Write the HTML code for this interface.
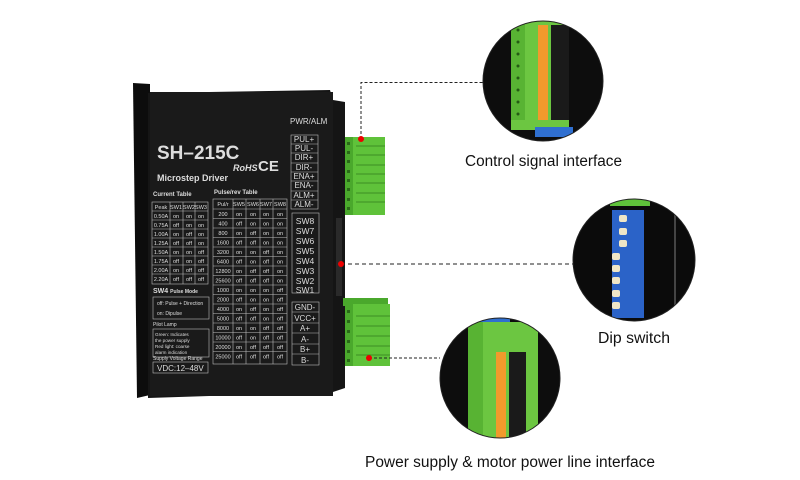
<!DOCTYPE html>
<html><head><meta charset="utf-8"><style>
html,body{margin:0;padding:0;background:#fff;width:800px;height:480px;overflow:hidden}
svg{display:block}
.t{font-family:"Liberation Sans",sans-serif;fill:#ddd}
.c{font-family:"Liberation Sans",sans-serif;fill:#ddd;font-size:5.5px;text-anchor:middle}
.lbl{font-family:"Liberation Sans",sans-serif;font-size:15.5px;fill:#111}
</style></head><body>
<svg width="800" height="480" viewBox="0 0 800 480" xmlns="http://www.w3.org/2000/svg">
<defs>
<clipPath id="c1"><circle cx="543" cy="81" r="60"/></clipPath>
<clipPath id="c2"><circle cx="634" cy="260" r="61"/></clipPath>
<clipPath id="c3"><circle cx="500" cy="378" r="60"/></clipPath>
</defs>
<polygon points="133,83 150,84 150,395 137,398" fill="#0c0c0c"/>
<path d="M148,93 L330,90 L333,100 L345,102 L345,388 L333,392 L148,398 Z" fill="#151515"/>
<rect x="150" y="92" width="183" height="304" fill="#1a1a1a"/>
<text class="t" x="290" y="124" font-size="8">PWR/ALM</text>
<text class="t" x="157" y="159" font-size="19" font-weight="bold" fill="#e6e6e6">SH–215C</text>
<text class="t" x="233" y="171" font-size="9" font-style="italic" font-weight="bold">RoHS</text>
<text class="t" x="258" y="171" font-size="15" font-weight="bold">CE</text>
<text class="t" x="157" y="181" font-size="9" font-weight="bold">Microstep Driver</text>
<text class="t" x="153" y="196" font-size="6" font-weight="bold">Current Table</text>
<text class="t" x="214" y="194" font-size="6" font-weight="bold">Pulse/rev Table</text>
<g stroke="#bbb" stroke-width="0.6" fill="none">
<rect x="152" y="202" width="56" height="82"/>
<path d="M170,202V284M183,202V284M195,202V284M152,211H208M152,220H208M152,229H208M152,238H208M152,247H208M152,256H208M152,265H208M152,274H208"/>
<rect x="213" y="199" width="74" height="165"/>
<path d="M233,199V364M246,199V364M260,199V364M273,199V364M213,209H287M213,218.5H287M213,228H287M213,237.5H287M213,247H287M213,256.5H287M213,266H287M213,275.5H287M213,285H287M213,294.5H287M213,304H287M213,313.5H287M213,323H287M213,332.5H287M213,342H287M213,351.5H287"/>
<rect x="153" y="297" width="56" height="22"/>
<rect x="153" y="329" width="56" height="28"/>
<rect x="153" y="362" width="55" height="11"/>
<rect x="291" y="135" width="27" height="74"/>
<path d="M291,144H318M291,153H318M291,163H318M291,172H318M291,181H318M291,191H318M291,200H318"/>
<rect x="292" y="213" width="27" height="80"/>
<rect x="292" y="302" width="27" height="63"/>
<path d="M292,312H319M292,323H319M292,333H319M292,344H319M292,354H319"/>
</g>
<g class="c">
<text x="161" y="209">Peak</text><text x="176" y="209">SW1</text><text x="189" y="209">SW2</text><text x="201" y="209">SW3</text>
<text x="161" y="218">0.50A</text><text x="176" y="218">on</text><text x="189" y="218">on</text><text x="201" y="218">on</text>
<text x="161" y="227">0.75A</text><text x="176" y="227">off</text><text x="189" y="227">on</text><text x="201" y="227">on</text>
<text x="161" y="236">1.00A</text><text x="176" y="236">on</text><text x="189" y="236">off</text><text x="201" y="236">on</text>
<text x="161" y="245">1.25A</text><text x="176" y="245">off</text><text x="189" y="245">off</text><text x="201" y="245">on</text>
<text x="161" y="254">1.50A</text><text x="176" y="254">on</text><text x="189" y="254">on</text><text x="201" y="254">off</text>
<text x="161" y="263">1.75A</text><text x="176" y="263">off</text><text x="189" y="263">on</text><text x="201" y="263">off</text>
<text x="161" y="272">2.00A</text><text x="176" y="272">on</text><text x="189" y="272">off</text><text x="201" y="272">off</text>
<text x="161" y="281">2.20A</text><text x="176" y="281">off</text><text x="189" y="281">off</text><text x="201" y="281">off</text>
<text x="223" y="206">Pul/r</text><text x="239" y="206">SW5</text><text x="253" y="206">SW6</text><text x="266" y="206">SW7</text><text x="280" y="206">SW8</text>
<text x="223" y="216">200</text><text x="239" y="216">on</text><text x="253" y="216">on</text><text x="266" y="216">on</text><text x="280" y="216">on</text>
<text x="223" y="225.5">400</text><text x="239" y="225.5">off</text><text x="253" y="225.5">on</text><text x="266" y="225.5">on</text><text x="280" y="225.5">on</text>
<text x="223" y="235">800</text><text x="239" y="235">on</text><text x="253" y="235">off</text><text x="266" y="235">on</text><text x="280" y="235">on</text>
<text x="223" y="244.5">1600</text><text x="239" y="244.5">off</text><text x="253" y="244.5">off</text><text x="266" y="244.5">on</text><text x="280" y="244.5">on</text>
<text x="223" y="254">3200</text><text x="239" y="254">on</text><text x="253" y="254">on</text><text x="266" y="254">off</text><text x="280" y="254">on</text>
<text x="223" y="263.5">6400</text><text x="239" y="263.5">off</text><text x="253" y="263.5">on</text><text x="266" y="263.5">off</text><text x="280" y="263.5">on</text>
<text x="223" y="273">12800</text><text x="239" y="273">on</text><text x="253" y="273">off</text><text x="266" y="273">off</text><text x="280" y="273">on</text>
<text x="223" y="282.5">25600</text><text x="239" y="282.5">off</text><text x="253" y="282.5">off</text><text x="266" y="282.5">off</text><text x="280" y="282.5">on</text>
<text x="223" y="292">1000</text><text x="239" y="292">on</text><text x="253" y="292">on</text><text x="266" y="292">on</text><text x="280" y="292">off</text>
<text x="223" y="301.5">2000</text><text x="239" y="301.5">off</text><text x="253" y="301.5">on</text><text x="266" y="301.5">on</text><text x="280" y="301.5">off</text>
<text x="223" y="311">4000</text><text x="239" y="311">on</text><text x="253" y="311">off</text><text x="266" y="311">on</text><text x="280" y="311">off</text>
<text x="223" y="320.5">5000</text><text x="239" y="320.5">off</text><text x="253" y="320.5">off</text><text x="266" y="320.5">on</text><text x="280" y="320.5">off</text>
<text x="223" y="330">8000</text><text x="239" y="330">on</text><text x="253" y="330">on</text><text x="266" y="330">off</text><text x="280" y="330">off</text>
<text x="223" y="339.5">10000</text><text x="239" y="339.5">off</text><text x="253" y="339.5">on</text><text x="266" y="339.5">off</text><text x="280" y="339.5">off</text>
<text x="223" y="349">20000</text><text x="239" y="349">on</text><text x="253" y="349">off</text><text x="266" y="349">off</text><text x="280" y="349">off</text>
<text x="223" y="358.5">25000</text><text x="239" y="358.5">off</text><text x="253" y="358.5">off</text><text x="266" y="358.5">off</text><text x="280" y="358.5">off</text>
</g>
<text class="t" x="153" y="293" font-size="7" font-weight="bold">SW4 <tspan font-size="5">Pulse Mode</tspan></text>
<text class="t" x="157" y="305" font-size="5">off: Pulse + Direction</text>
<text class="t" x="157" y="315" font-size="5">on: Dipulse</text>
<text class="t" x="153" y="326" font-size="5">Pilot Lamp</text>
<text class="t" x="155" y="336" font-size="4.6">Green: Indicates</text>
<text class="t" x="155" y="342" font-size="4.6">the power supply</text>
<text class="t" x="155" y="348" font-size="4.6">Red light: coarse</text>
<text class="t" x="155" y="354" font-size="4.6">alarm indication</text>
<text class="t" x="153" y="360" font-size="5">Supply Voltage Range</text>
<text class="t" x="157" y="371" font-size="8">VDC:12–48V</text>
<g class="t" font-size="8" text-anchor="middle">
<text x="304" y="142">PUL+</text><text x="304" y="151">PUL-</text><text x="304" y="160">DIR+</text><text x="304" y="170">DIR-</text><text x="304" y="179">ENA+</text><text x="304" y="188">ENA-</text><text x="304" y="198">ALM+</text><text x="304" y="207">ALM-</text>
<text x="305" y="224" font-size="8.5">SW8</text><text x="305" y="234" font-size="8.5">SW7</text><text x="305" y="244" font-size="8.5">SW6</text><text x="305" y="254" font-size="8.5">SW5</text><text x="305" y="264" font-size="8.5">SW4</text><text x="305" y="274" font-size="8.5">SW3</text><text x="305" y="284" font-size="8.5">SW2</text><text x="305" y="293" font-size="8.5">SW1</text>
<text x="305" y="310">GND-</text><text x="305" y="321">VCC+</text><text x="305" y="331">A+</text><text x="305" y="342">A-</text><text x="305" y="352">B+</text><text x="305" y="363">B-</text>
</g>
<rect x="336" y="218" width="6" height="78" fill="#2a2a2a"/>
<rect x="345" y="137" width="40" height="78" fill="#5fc23a"/>
<rect x="345" y="137" width="8" height="78" fill="#4aa82c"/>
<g fill="#2a6a18"><rect x="347" y="142" width="3" height="3"/><rect x="347" y="151" width="3" height="3"/><rect x="347" y="160" width="3" height="3"/><rect x="347" y="170" width="3" height="3"/><rect x="347" y="179" width="3" height="3"/><rect x="347" y="188" width="3" height="3"/><rect x="347" y="198" width="3" height="3"/><rect x="347" y="207" width="3" height="3"/></g>
<g stroke="#3c8f24" stroke-width="1"><path d="M356,146H385M356,155H385M356,165H385M356,174H385M356,183H385M356,193H385M356,202H385"/></g>
<rect x="343" y="298" width="45" height="8" fill="#4aa82c"/>
<rect x="345" y="304" width="45" height="62" fill="#5fc23a"/>
<rect x="345" y="304" width="8" height="62" fill="#4aa82c"/>
<g fill="#2a6a18"><rect x="347" y="310" width="3" height="3"/><rect x="347" y="320" width="3" height="3"/><rect x="347" y="330" width="3" height="3"/><rect x="347" y="340" width="3" height="3"/><rect x="347" y="350" width="3" height="3"/><rect x="347" y="359" width="3" height="3"/></g>
<g stroke="#3c8f24" stroke-width="1"><path d="M356,316H390M356,326H390M356,336H390M356,346H390M356,355H390"/></g>
<g stroke="#222" stroke-width="1" fill="none">
<path d="M361,139V82.5H483" stroke-dasharray="3,2"/>
<path d="M341,264H574" stroke-dasharray="4,3"/>
<path d="M369,358H440" stroke-dasharray="3,2"/>
</g>
<circle cx="361" cy="139" r="3" fill="#e00"/>
<circle cx="341" cy="264" r="3" fill="#e00"/>
<circle cx="369" cy="358" r="3" fill="#e00"/>
<g clip-path="url(#c1)">
<rect x="480" y="18" width="130" height="130" fill="#0d0d0d"/>
<rect x="511" y="20" width="58" height="110" fill="#6cc641"/>
<rect x="511" y="20" width="14" height="100" fill="#58b333"/>
<g fill="#245a14"><circle cx="518" cy="30" r="1.5"/><circle cx="518" cy="42" r="1.5"/><circle cx="518" cy="54" r="1.5"/><circle cx="518" cy="66" r="1.5"/><circle cx="518" cy="78" r="1.5"/><circle cx="518" cy="90" r="1.5"/><circle cx="518" cy="102" r="1.5"/><circle cx="518" cy="114" r="1.5"/></g>
<rect x="538" y="25" width="10" height="95" fill="#f19a2c"/>
<rect x="551" y="25" width="18" height="95" fill="#1a1a1a"/>
<rect x="535" y="127" width="38" height="10" fill="#2f6fd0"/>
</g>
<circle cx="543" cy="81" r="60" fill="none" stroke="#222" stroke-width="1"/>
<g clip-path="url(#c2)">
<rect x="570" y="195" width="130" height="130" fill="#0b0b0b"/>
<rect x="610" y="198" width="40" height="8" fill="#5fc23a"/>
<rect x="612" y="210" width="32" height="108" fill="#2b63c8"/>
<g fill="#efe6c6"><rect x="619" y="215" width="8" height="7" rx="2"/><rect x="619" y="228" width="8" height="7" rx="2"/><rect x="619" y="240" width="8" height="7" rx="2"/><rect x="612" y="253" width="8" height="7" rx="2"/><rect x="612" y="265" width="8" height="7" rx="2"/><rect x="612" y="277" width="8" height="7" rx="2"/><rect x="612" y="290" width="8" height="7" rx="2"/><rect x="612" y="302" width="8" height="7" rx="2"/></g>
<rect x="674" y="205" width="2" height="100" fill="#444"/>
</g>
<circle cx="634" cy="260" r="61" fill="none" stroke="#222" stroke-width="1"/>
<g clip-path="url(#c3)">
<rect x="438" y="315" width="125" height="130" fill="#0d0d0d"/>
<rect x="470" y="318" width="40" height="12" fill="#2f6fd0"/>
<rect x="468" y="322" width="70" height="120" fill="#6cc641"/>
<rect x="468" y="322" width="15" height="120" fill="#58b333"/>
<rect x="496" y="352" width="10" height="90" fill="#f19a2c"/>
<rect x="509" y="352" width="17" height="90" fill="#1a1a1a"/>
</g>
<circle cx="500" cy="378" r="60" fill="none" stroke="#222" stroke-width="1"/>
<text class="lbl" x="465" y="166" textLength="157" lengthAdjust="spacingAndGlyphs">Control signal interface</text>
<text class="lbl" x="598" y="343" textLength="72" lengthAdjust="spacingAndGlyphs">Dip switch</text>
<text class="lbl" x="365" y="467" textLength="290" lengthAdjust="spacingAndGlyphs">Power supply &amp; motor power line interface</text>
</svg>
</body></html>
